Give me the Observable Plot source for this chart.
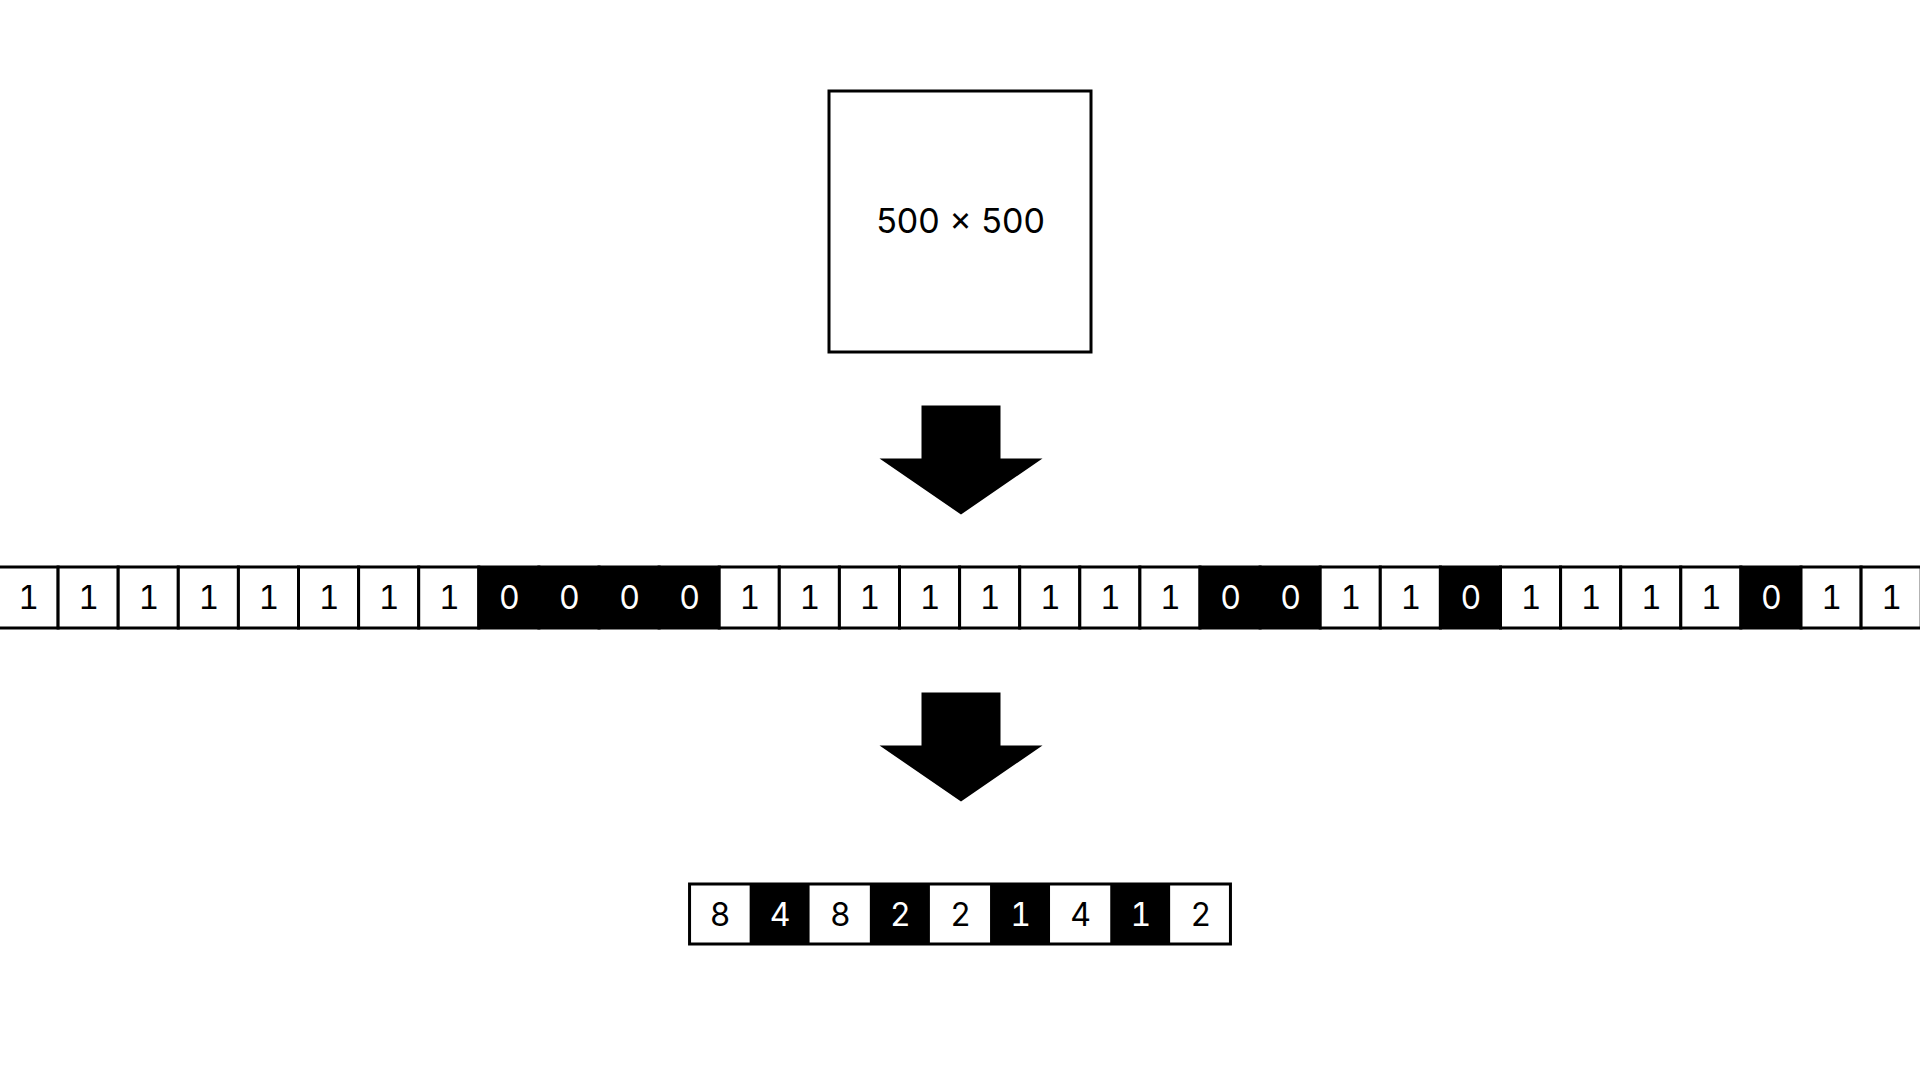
<!DOCTYPE html>
<html>
<head>
<meta charset="utf-8">
<script src="https://cdn.jsdelivr.net/npm/d3@7"></script>
<script src="https://cdn.jsdelivr.net/npm/@observablehq/plot@0.6"></script>
<style>
  body { margin: 0; background: #fff; overflow: hidden; }
  #chart svg { display: block; }
</style>
</head>
<body>
<div id="chart"></div>
<script>
// bit string
const bits = [1,1,1,1,1,1,1,1, 0,0,0,0, 1,1,1,1,1,1,1,1, 0,0, 1,1, 0, 1,1,1,1, 0, 1,1]
// run lengths of the bits above
const runs = [8, 4, 8, 2, 2, 1, 4, 1, 2]
const imageLabel = '500 x 500'

const W = 1920, H = 1080, cw = 60.1
const rowStart = -2, rowY = [567, 628]
const runStart = 960 - runs.length * cw / 2, runY = [884, 944]

const bitCells = bits.map((v, i) => ({v, x1: rowStart + i * cw, x2: rowStart + (i + 1) * cw}))
const runCells = runs.map((v, i) => ({v, dark: i % 2 === 1, x1: runStart + i * cw, x2: runStart + (i + 1) * cw}))

const arrow = (top) => [
  [921, top], [1000, top], [1000, top + 53], [1042, top + 53],
  [960.5, top + 109], [879, top + 53], [921, top + 53], [921, top]
].map(([x, y]) => ({x, y}))

const chart = Plot.plot({
  width: W, height: H, margin: 0,
  x: {domain: [0, W], axis: null},
  y: {domain: [H, 0], axis: null},
  style: {fontFamily: 'Inter, "Noto Sans", sans-serif'},
  marks: [
    // input image
    Plot.rect([{}], {x1: 829, x2: 1091, y1: 91, y2: 352, fill: 'white', stroke: 'black', strokeWidth: 3}),
    Plot.text([imageLabel], {x: 960, y: 222, text: d => d, fontSize: 34, fill: 'black'}),
    // arrows
    Plot.line(arrow(405), {x: 'x', y: 'y', fill: 'black', stroke: 'none'}),
    Plot.line(arrow(692), {x: 'x', y: 'y', fill: 'black', stroke: 'none'}),
    // bit row
    Plot.rect(bitCells, {x1: 'x1', x2: 'x2', y1: rowY[0], y2: rowY[1], fill: d => d.v ? 'white' : 'black', stroke: 'black', strokeWidth: 3}),
    Plot.text(bitCells, {x: d => (d.x1 + d.x2) / 2, y: (rowY[0] + rowY[1]) / 2 + 1, text: 'v', fontSize: 32, fill: d => d.v ? 'black' : 'white'}),
    // run lengths
    Plot.rect(runCells, {x1: 'x1', x2: 'x2', y1: runY[0], y2: runY[1], fill: d => d.dark ? 'black' : 'white'}),
    Plot.rect([{}], {x1: runStart, x2: runStart + runs.length * cw, y1: runY[0], y2: runY[1], fill: 'none', stroke: 'black', strokeWidth: 3}),
    Plot.text(runCells, {x: d => (d.x1 + d.x2) / 2, y: (runY[0] + runY[1]) / 2 + 1, text: 'v', fontSize: 32, fill: d => d.dark ? 'white' : 'black'})
  ]
})

d3.select('#chart').append(() => chart)
</script>
</body>
</html>
